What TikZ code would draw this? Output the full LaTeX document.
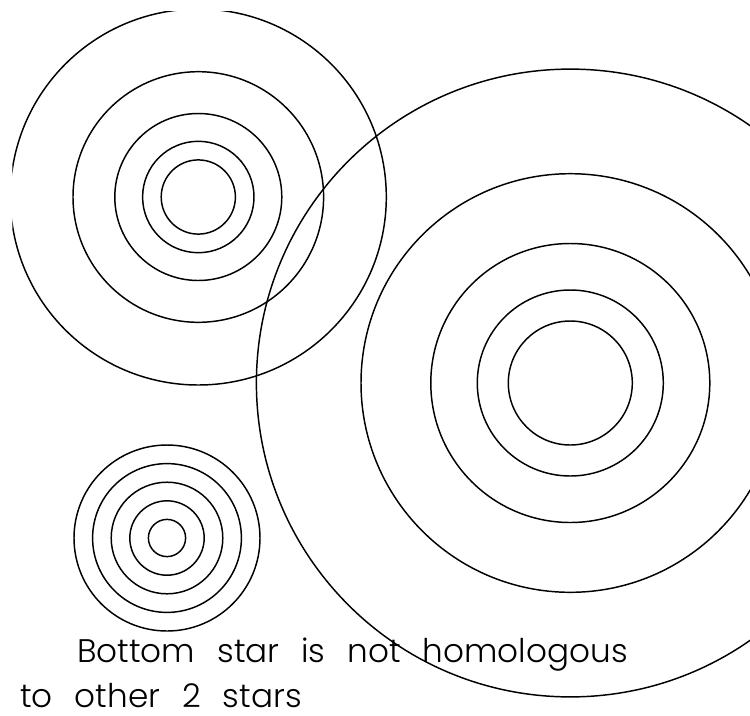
\documentclass[tikz,border=0pt]{standalone}
\usepackage{fontspec}
\newfontfamily\notefont{Poppins Light}
\newcommand\notestyle{\notefont\fontsize{24.5}{30}\selectfont\spaceskip=16.5pt\relax}
\tikzset{
  ring/.style={line width=1.1pt},
  note/.style={anchor=base west,inner sep=0pt,font=\notestyle}
}
\begin{document}
\begin{tikzpicture}[x=0.75pt,y=-0.75pt]
\useasboundingbox (0,0) rectangle (750,715);
\clip (12.3,11.3) rectangle (750,715);
   \coordinate (top) at (198.3,197);
   \coordinate (big) at (570.3,383);
   \coordinate (low) at (167,538);

    % top star, each ring 1.5 times the last
    \foreach \r in {37.1,55.7,83.5,125.3,188}
      \draw[ring] (top) circle[radius=\r*0.75pt];
    % big star, same ratio
    \foreach \r in {62,93,139.5,209.3,313.9}
      \draw[ring] (big) circle[radius=\r*0.75pt];
    % bottom star, equal steps
    \foreach \r in {18.6,37.2,55.8,74.4,93}
      \draw[ring] (low) circle[radius=\r*0.75pt];

    \node[note] at (77,662) (line1) {Bottom star is not homologous};
    \node[note] at (20,707) (line2) {to other 2 stars};
    \end{tikzpicture}
\end{document}
